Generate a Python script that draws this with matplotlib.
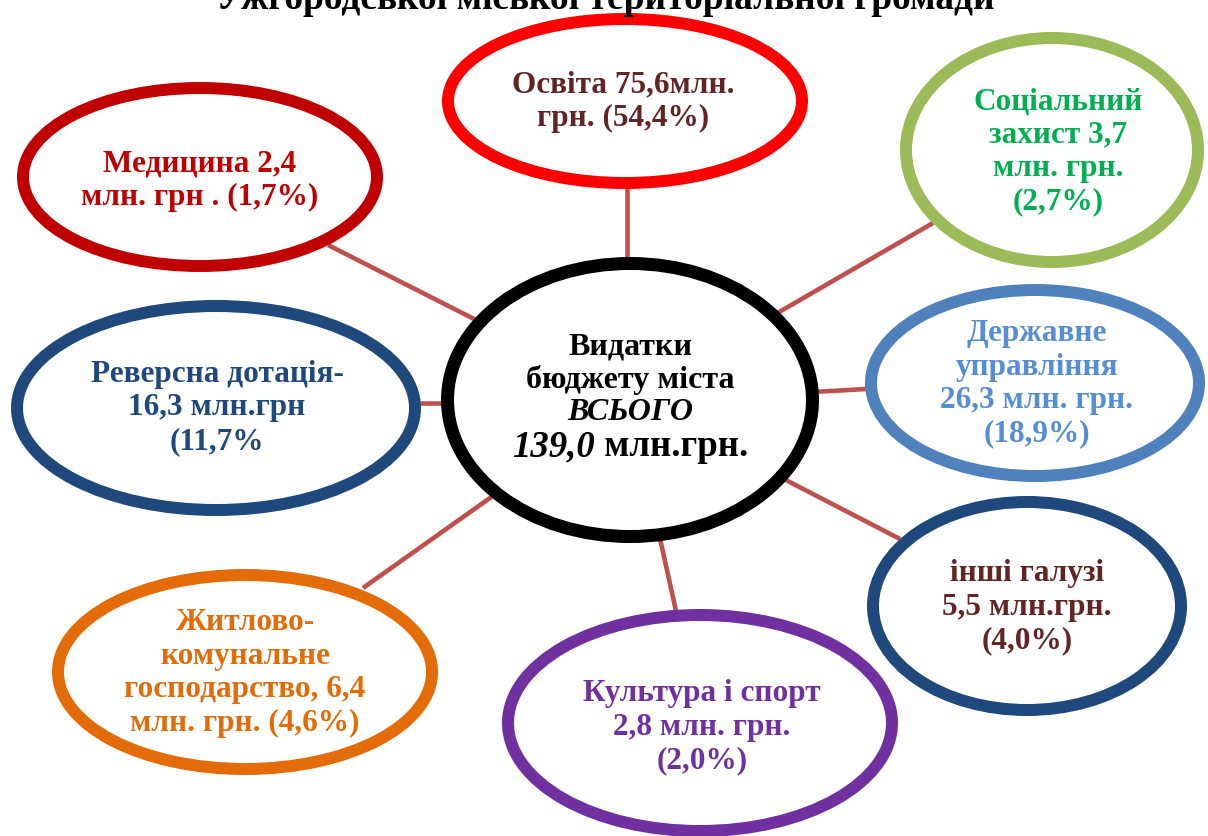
import matplotlib
matplotlib.use('Agg')
import matplotlib.pyplot as plt
from matplotlib.patches import Ellipse

plt.rcParams['font.family'] = ['Liberation Serif', 'DejaVu Serif']

# budget of the city, mln UAH
title = 'Ужгородської міської територіальної громади'
total = 139.0
amounts = [75.6, 2.4, 3.7, 26.3, 16.3, 5.5, 6.4, 2.8]
shares = [54.4, 1.7, 2.7, 18.9, 11.7, 4.0, 4.6, 2.0]


def c(v):
    return f'{v:.1f}'.replace('.', ',')


a, s = [c(v) for v in amounts], [c(v) for v in shares]
labels = [
    f'Освіта {a[0]}млн.\nгрн. ({s[0]}%)',
    f'Медицина {a[1]}\nмлн. грн . ({s[1]}%)',
    f'Соціальний\nзахист {a[2]}\nмлн. грн.\n({s[2]}%)',
    f'Державне\nуправління\n{a[3]} млн. грн.\n({s[3]}%)',
    f'Реверсна дотація-\n{a[4]} млн.грн\n({s[4]}%',
    f'інші галузі\n{a[5]} млн.грн.\n({s[5]}%)',
    f'Житлово-\nкомунальне\nгосподарство, {a[6]}\nмлн. грн. ({s[6]}%)',
    f'Культура і спорт\n{a[7]} млн. грн.\n({s[7]}%)',
]

# layout in pixels: ellipse centre, half axes, edge colour, text colour, text pos, connector
layout = [
    (625, 101, 183, 88, '#FF0000', '#632523', (623, 102), ((627, 188), (627, 262))),
    (200, 177, 183, 95, '#C00000', '#C00000', (200, 181), ((328, 245), (480, 322))),
    (1052, 150, 152, 118, '#9BBB59', '#00B050', (1058, 152), ((933, 223), (774, 315))),
    (1035, 383, 170, 99, '#4F81BD', '#558ED5', (1037, 384), ((866, 389), (813, 392))),
    (216, 408, 205, 108, '#1F497D', '#1F497D', (217, 408), ((420, 403), (447, 403))),
    (1027, 606, 160, 110, '#1F497D', '#632523', (1027, 607), ((900, 539), (780, 477))),
    (245, 672, 193, 103, '#E36C09', '#E36C09', (245, 673), ((363, 588), (497, 493))),
    (700, 723, 198, 114, '#7030A0', '#7030A0', (702, 727), ((676, 611), (659, 534))),
]

W, H = 1208, 836
fig = plt.figure(figsize=(W / 100, H / 100), dpi=100)
ax = fig.add_axes([0, 0, 1, 1])
ax.set_xlim(0, W)
ax.set_ylim(H, 0)
ax.axis('off')

lw = 12
for lab, (cx, cy, rx, ry, ec, tc, tp, con) in zip(labels, layout):
    ax.add_patch(Ellipse((cx, cy), 2 * rx - lw, 2 * ry - lw, facecolor='white',
                         edgecolor=ec, linewidth=lw * 0.72, zorder=2))
    (x0, y0), (x1, y1) = con
    ax.plot([x0, x1], [y0, y1], color='#C0504D', linewidth=3.3, zorder=1,
            solid_capstyle='butt')
    ax.text(tp[0], tp[1], lab, color=tc, fontsize=22.5, fontweight='bold',
            ha='center', va='center', linespacing=1.2, zorder=3)

# centre ellipse
ax.add_patch(Ellipse((630, 400), 2 * 189 - 13, 2 * 143 - 13, facecolor='white',
                     edgecolor='black', linewidth=13 * 0.72, zorder=2))
ax.text(630, 347, 'Видатки', fontsize=23, fontweight='bold',
        ha='center', va='center', zorder=3)
ax.text(630, 380, 'бюджету міста', fontsize=23, fontweight='bold',
        ha='center', va='center', zorder=3)
ax.text(630, 413, 'ВСЬОГО', fontsize=23, fontweight='bold', fontstyle='italic',
        ha='center', va='center', zorder=3)

# last line: italic number + upright unit, centred together
fig.canvas.draw()
r = fig.canvas.get_renderer()
t1 = ax.text(0, 447, c(total), fontsize=26.5, fontweight='bold', fontstyle='italic',
             ha='left', va='center', zorder=3)
t2 = ax.text(0, 447, ' млн.грн.', fontsize=26.5, fontweight='bold',
             ha='left', va='center', zorder=3)
w1 = t1.get_window_extent(r).width
w2 = t2.get_window_extent(r).width
x_start = 630 - (w1 + w2) / 2
t1.set_x(x_start)
t2.set_x(x_start + w1)

# title, cut by the top edge as in the source
ax.text(605, 9, title, fontsize=27, fontweight='bold', ha='center', va='baseline',
        zorder=3, clip_on=False)

fig.savefig('out.png', dpi=100)
